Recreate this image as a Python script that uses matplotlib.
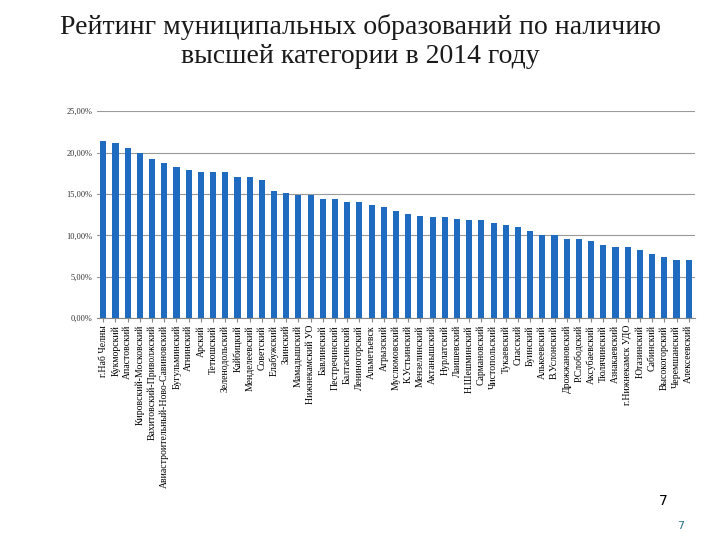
import matplotlib.pyplot as plt
from matplotlib.ticker import FuncFormatter

names = ["г.Наб Челны", "Кукморский", "Апастовский", "Кировский-Московский",
         "Вахитовский-Приволжский", "Авиастроительный-Ново-Савиновский",
         "Бугульминский", "Атнинский", "Арский", "Тетюшский", "Зеленодольский",
         "Кайбицкий", "Менделеевский", "Советский", "Елабужский", "Заинский",
         "Мамадышский", "Нижнекамский УО", "Бавлинский", "Пестречинский",
         "Балтасинский", "Лениногорский", "Альметьевск", "Агрызский",
         "Муслюмовский", "К.Устьинский", "Мензелинский", "Актанышский",
         "Нурлатский", "Лаишевский", "Н.Шешминский", "Сармановский",
         "Чистопольский", "Тукаевский", "Спасский", "Буинский", "Алькеевский",
         "В.Услонский", "Дрожжановский", "Р.Слободский", "Аксубаевский",
         "Тюлячинский", "Азнакаевский", "г.Нижнекамск УДО", "Ютазинский",
         "Сабинский", "Высокогорский", "Черемшанский", "Алексеевский"]
values = [21.4, 21.2, 20.6, 20.0, 19.2, 18.8, 18.2, 17.9, 17.7, 17.7, 17.7,
          17.1, 17.0, 16.7, 15.3, 15.1, 14.9, 14.9, 14.4, 14.4, 14.0, 14.0,
          13.7, 13.4, 12.9, 12.6, 12.3, 12.2, 12.2, 12.0, 11.9, 11.9, 11.5,
          11.3, 11.0, 10.5, 10.0, 10.0, 9.6, 9.6, 9.3, 8.8, 8.6, 8.6, 8.2,
          7.8, 7.4, 7.0, 7.0]

plt.rcParams['font.family'] = ['Liberation Serif', 'DejaVu Serif']
fig = plt.figure(figsize=(7.2, 5.4), dpi=100)
ax = fig.add_axes([0.135, 0.411, 0.83, 0.383])

x = range(len(values))
ax.bar(x, values, width=0.5, color='#1f6bbf')
ax.set_xlim(-0.5, len(values) - 0.5)
ax.set_ylim(0, 25)
ax.set_yticks(range(0, 26, 5))
ax.yaxis.set_major_formatter(FuncFormatter(lambda v, p: f"{v:.2f}%".replace('.', ',')))
ax.tick_params(axis='y', labelsize=6, length=0, colors='#333333')
ax.set_xticks(list(x))
ax.set_xticklabels(names, rotation=90, fontsize=7)
ax.tick_params(axis='x', length=3, color='#888888', pad=2)
ax.grid(axis='y', color='#999999', linewidth=0.8)
ax.set_axisbelow(True)
for s in ['top', 'right', 'left']:
    ax.spines[s].set_visible(False)
ax.spines['bottom'].set_color('#888888')

fig.text(0.5, 0.975, "Рейтинг муниципальных образований по наличию\nвысшей категории в 2014 году",
         ha='center', va='top', fontsize=20, color='#1a1a1a', linespacing=1.25)
fig.text(0.915, 0.065, "7", fontsize=10, family='DejaVu Sans')
fig.text(0.94, 0.02, "7", fontsize=8, color='#2a6f8f', family='DejaVu Sans')

fig.savefig('out.png', dpi=100)
